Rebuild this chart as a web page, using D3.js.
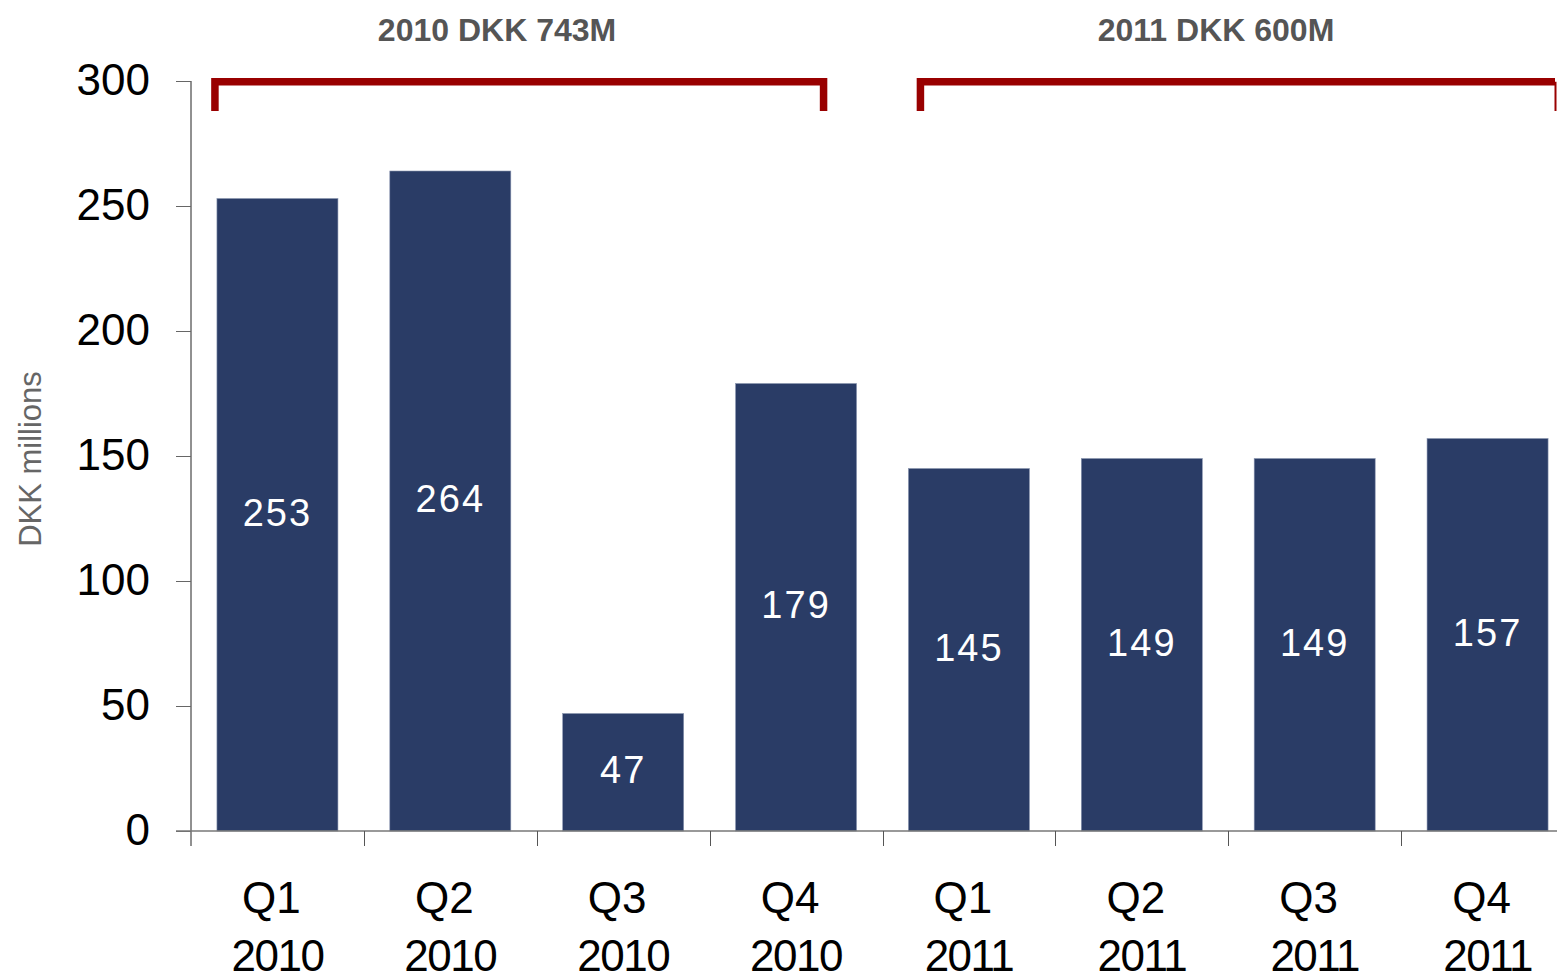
<!DOCTYPE html>
<html>
<head>
<meta charset="utf-8">
<script src="https://cdn.jsdelivr.net/npm/d3@7"></script>
<style>
  body { margin: 0; background: #fff; overflow: hidden; }
  svg text { font-family: "Liberation Sans", Arial, sans-serif; }
</style>
</head>
<body>
<div id="chart"></div>
<script>
// data
var quarters = ['Q1', 'Q2', 'Q3', 'Q4', 'Q1', 'Q2', 'Q3', 'Q4'];
var years = ['2010', '2010', '2010', '2010', '2011', '2011', '2011', '2011'];
var values = [253, 264, 47, 179, 145, 149, 149, 157];
var yTicks = [0, 50, 100, 150, 200, 250, 300];
var groupTitles = ['2010 DKK 743M', '2011 DKK 600M'];
var groupYears = ['2010', '2011'];

var width = 1557, height = 977;
var margin = { top: 81, right: 0, bottom: 146, left: 191 };

var keys = quarters.map(function (q, i) { return q + ' ' + years[i]; });

// last category runs a bit past the right edge, like the original
var x = d3.scaleBand()
  .domain(keys)
  .range([margin.left, 1574])
  .paddingInner(0.3)
  .paddingOuter(0.15);

var y = d3.scaleLinear()
  .domain([0, 300])
  .range([height - margin.bottom, margin.top]);

var svg = d3.select('#chart').append('svg')
  .attr('width', width)
  .attr('height', height);

// bars
svg.append('g').selectAll('rect')
  .data(values)
  .join('rect')
  .attr('x', function (d, i) { return x(keys[i]); })
  .attr('y', function (d) { return y(d); })
  .attr('width', x.bandwidth())
  .attr('height', function (d) { return y(0) - y(d); })
  .attr('fill', '#2a3c66')
  .attr('stroke', '#8a96b0')
  .attr('stroke-width', 0.6);

// value labels inside the bars
svg.append('g').selectAll('text')
  .data(values)
  .join('text')
  .attr('x', function (d, i) { return x(keys[i]) + x.bandwidth() / 2; })
  .attr('y', function (d) { return (y(d) + y(0)) / 2 + 11; })
  .attr('text-anchor', 'middle')
  .attr('fill', '#fff')
  .attr('font-size', 38)
  .attr('letter-spacing', 2)
  .text(function (d) { return d; });

// y axis
var yAxis = svg.append('g')
  .attr('transform', 'translate(' + margin.left + ',0)')
  .call(d3.axisLeft(y).tickValues(yTicks).tickSize(15).tickPadding(26));
yAxis.select('.domain').attr('stroke', '#222').attr('d', 'M0,' + y(300) + 'V' + (y(0) + 15));
yAxis.selectAll('.tick line').attr('stroke', '#666');
yAxis.selectAll('.tick text')
  .attr('font-size', 44)
  .attr('fill', '#000')
  .attr('dy', '0.3em');

// x axis: baseline and ticks at category boundaries
var half = x.step() * x.paddingInner() / 2;
svg.append('line')
  .attr('x1', margin.left - 15).attr('x2', width)
  .attr('y1', y(0)).attr('y2', y(0))
  .attr('stroke', '#777').attr('stroke-width', 1.5);
svg.append('g').selectAll('line')
  .data(keys.slice(1))
  .join('line')
  .attr('x1', function (d) { return Math.round(x(d) - half) + 0.5; })
  .attr('x2', function (d) { return Math.round(x(d) - half) + 0.5; })
  .attr('y1', y(0)).attr('y2', y(0) + 15)
  .attr('stroke', '#555');

var xl = svg.append('g').selectAll('text')
  .data(keys)
  .join('text')
  .attr('text-anchor', 'middle')
  .attr('font-size', 44)
  .attr('fill', '#000');
xl.append('tspan')
  .attr('x', function (d) { return x(d) + x.bandwidth() / 2 - 6; })
  .attr('y', 913)
  .text(function (d, i) { return quarters[i]; });
xl.append('tspan')
  .attr('x', function (d) { return x(d) + x.bandwidth() / 2; })
  .attr('y', 971)
  .attr('letter-spacing', -1.5)
  .text(function (d, i) { return years[i]; });

// y axis title
svg.append('text')
  .attr('transform', 'translate(41,459) rotate(-90)')
  .attr('text-anchor', 'middle')
  .attr('font-size', 31)
  .attr('fill', '#666')
  .text('DKK millions');

// year brackets and totals
var brackets = groupYears.map(function (yr, g) {
  var ks = keys.filter(function (k, i) { return years[i] === yr; });
  var x0 = g === 0 ? x(ks[0]) - 2 : x(ks[0]) + 12;
  var x1 = g === 0 ? x(ks[ks.length - 1]) + x.bandwidth() - 33 : width - 2;
  return { x0: x0, x1: x1, title: groupTitles[g], last: g === groupYears.length - 1 };
});

var br = svg.append('g');
br.selectAll('path')
  .data(brackets)
  .join('path')
  .attr('d', function (d) {
    return 'M' + d.x0 + ',' + y(288) + 'V' + y(299.7) + 'H' + d.x1 + (d.last ? '' : 'V' + y(288));
  })
  .attr('fill', 'none')
  .attr('stroke', '#990000')
  .attr('stroke-width', 7.5)
  .attr('stroke-linejoin', 'miter');
br.selectAll('line')
  .data(brackets.filter(function (d) { return d.last; }))
  .join('line')
  .attr('x1', function (d) { return d.x1 + 0.5; })
  .attr('x2', function (d) { return d.x1 + 0.5; })
  .attr('y1', y(299.7)).attr('y2', y(288))
  .attr('stroke', '#990000')
  .attr('stroke-width', 2);

svg.append('g').selectAll('text')
  .data(brackets)
  .join('text')
  .attr('x', function (d, i) { return i === 0 ? 497 : 1216; })
  .attr('y', 41)
  .attr('text-anchor', 'middle')
  .attr('font-size', 32)
  .attr('font-weight', 'bold')
  .attr('fill', '#555')
  .text(function (d) { return d.title; });
</script>
</body>
</html>
